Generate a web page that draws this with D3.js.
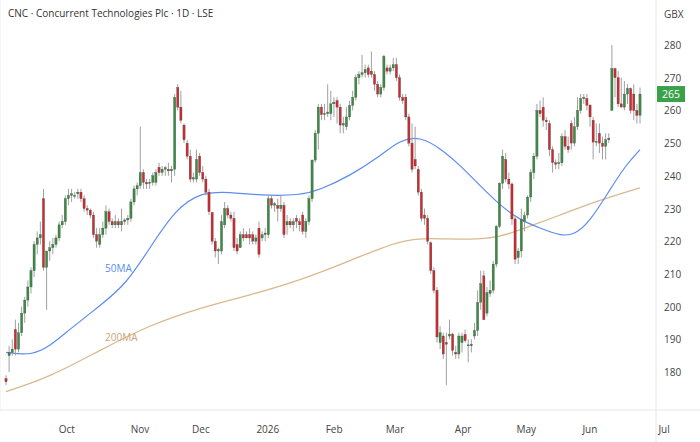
<!DOCTYPE html>
<html><head><meta charset="utf-8">
<script src="https://cdn.jsdelivr.net/npm/d3@7"></script>
<style>body{margin:0;background:#fff}svg{font-family:"Open Sans",sans-serif}</style>
</head><body><svg id="c" width="700" height="442"></svg>
<script>
// daily candles: open, high, low, close
const candles = [
[178,179,176,177],[185,188,180,186],[186,190,185,187],[193,196,185,187],[187,195,186,192],[192,200,191,198],
[198,203,195,202],[202,208,200,206],[206,212,204,211],[211,220,209,219],[219,223,216,221],[221,226,219,222],
[233,236,211,212],[212,215,199,217],[217,220,214,218],[218,221,216,219],[219,222,218,221],[221,226,220,225],
[225,228,224,226],[226,234,225,233],[233,236,231,234],[234,236,232,234.5],[234,235,233,234],[234.5,236,233,235],
[235,236,232,233],[233,234,229,230],[230,231,228,229.5],[229.5,230,227,228],[228,229,221,222],[222,224,218,220],
[219,224,218,222],[222,226,221,224],[224,231,222,229],[229,230,225,226],[226,227,224,225],[225,228,224,226],
[226,227,224,225],[225,230,223,226],[226,227,225,226.5],[226.5,228,225,227],[227,233,226,232],[232,237,231,236],
[236,238,234,237],[237,255,236,241],[241,242,236,238],[238,239,236,237.5],[238,239,236,238],[238,241,237,240],
[238,242,237,241],[242.6,244,240,241],[241,243,240,242],[242,243,240,242.5],[242,244,240,241.5],[241.5,243,238,242],
[242,265,240,264],[267,268,260,261],[261,266,256,257],[255.5,256,250,251],[250,251,245,246],[246,248,238,239],
[239,241,238,239.4],[239,248,238,245],[246,247,240,241],[241,243,238,239],[239,240,234,235],[235,236,228,229],
[228.8,229,219,220],[220,221,215,217],[217,218,213,217.5],[217,228,216,226],[225,232,224,230],[230,231,227,228],
[228,229,226,227],[227,229,217,218],[219,221,216,217],[218,223,218,222],[222,224,220,221],[222,223,221,221],
[222,224,219,221],[222,223,219,220],[220,222,219,221],[224,226,215,216],[221,223,220,222],[222,224,220,222.5],
[222,234,221,233],[233,234,230,231],[231,232,229,231.5],[231,233,226,230],[230,234,229,231],[231,232,221,222],
[225,228,222,226],[226,227,224,225],[225,227,223,226],[227,228,224,226],[226,227,223,225],[228,229,222,223],
[223,227,221,226],[226,234,225,233],[233,245,232,244.8],[244.8,254,244,253],[253,262,248,261],[261,262,257,258.7],
[258.7,262,257,259],[259,268,258,259.5],[259,266,257,262],[262,264,258,262.5],[263,264,256,261],[261,262,253,255.5],
[255.5,258,253,256],[255,261,254,258],[258,263,257,261.5],[261.5,266,260,264],[264,271,263,270],[270,272,268,271],
[271,277,270,271.5],[271.5,274,270,272.5],[273,274,270,271],[272,278,270,271],[271,272,266,268],[268,269,264,265],
[265,268,264,267],[267,277,266,276.5],[273,274,271,272],[272,274,271,273],[273,276,272,274],[274,276,269,270],
[270,271,263,264],[264,265,262,263],[264,265,257,258],[258,259,249,250],[250,256,241,242],[245,255,242,243],
[242,243,234,235],[235,236,226,227],[228,230,225,227],[227,228,219,220],[219.5,220,210,211],[211,212,204,205],
[205,206,189,190.7],[189,194,187,192],[191,192,184,185.5],[189,192,176,188.5],[191,196,190,191.6],[191.6,192,185,186.6],
[186,188,184,185.5],[185.5,192,184,191],[189,192,186,191],[191.5,193,189,189.6],[188,190,183,188.3],[188,190,186,188.5],
[191,195,190,192.7],[192.7,205,191,201.3],[201.3,211,199,207],[209.4,211,196,196],[198,206,197,204.3],[204,208,203,205],
[205,214,204,213],[213,225,212,224.5],[224.5,238,224,237.7],[237.7,248,236,246],[245,247,238,239],[239,241,236,237.5],
[237.5,238,225,226.8],[226.8,228,213,214.5],[215,218,213,217],[217,230,215,226.7],[226,229,223,227.8],[228,234,227,233.5],
[233.5,242,232,241],[241,247,239,246],[246,262,245,260],[260,263,258,259],[261,264,255,257],[257,258,254,256.5],
[256,257,246,248],[248,249,241,244],[244,245,242,243.5],[243.7,247,242,244],[244,253,243,252],[252,254,248,249],
[249,252,247,248],[256,257,248,250],[250,258,249,255],[255,264,254,260],[260,265,259,263.6],[263.6,265,262,264],
[263.6,265,260,261.6],[261.6,262,255,258],[257,258,245,250.3],[250.3,256,249,250.5],[253,256,247,250],[250,252,245,249],
[249,253,245,251],[251,253,250,251.5],[260,280,260,272.8],[272.8,273,264,270],[270,272,261,262],[262,270,261,261],
[261,269,260,265],[265,268,262,266.7],[266.7,267,259,260],[265,268,257,260],[260,262,256,258.5],[258.5,267,256,265]
];
// moving averages as [position on 0..200 time grid, value]
const ma50 = [[0,186],[8,185],[14,188],[20,193],[30,200.5],[38,207],[45.4,218],[53.3,229.5],[61.2,235],[70.7,235],
  [80.1,234],[92.7,234],[99,235.7],[108.5,240],[118,246],[124.3,251],[130.6,252],[136.9,248.5],[143.2,243.3],
  [149.5,237],[155.8,231],[162.1,226.5],[168.5,224],[174.8,221.6],[179.5,222],[184.2,226],[190.5,235.7],[195.3,243],[200,248]];
const ma200 = [[0,174],[14,178.5],[29.7,186.7],[45.4,194.4],[61.2,199.6],[77,203.5],[92.7,208],[108.5,214],
  [124.3,220.4],[133.8,221],[146.4,220.4],[155.8,221.3],[162.1,223.4],[174.8,228],[187.4,232.6],[200,236.3]];
const yTicks = [180,190,200,210,220,230,240,250,260,270,280];
const monthTicks = [["Oct",19.2],["Nov",42.3],["Dec",61.5],["2026",82.6],["Feb",103.5],["Mar",122.7],
  ["Apr",144.2],["May",164.1],["Jun",184.2],["Jul",207.6]];
const lastPrice = 265;

const svg = d3.select("#c");
const x = d3.scaleLinear().domain([0, 200]).range([6, 640]);
const xc = d3.scaleLinear().domain([0, candles.length - 1]).range([6, 640]);
const y = d3.scaleLinear().domain([180, 280]).range([372, 45]);
const up = "#3a8d43", down = "#cf2a2f";

svg.append("line").attr("x1", 656).attr("x2", 656).attr("y1", 0).attr("y2", 442).attr("stroke", "#e6e6e6");
svg.append("line").attr("x1", 0).attr("x2", 700).attr("y1", 410).attr("y2", 410).attr("stroke", "#e6e6e6");
svg.append("line").attr("x1", 0).attr("x2", 0).attr("y1", 0).attr("y2", 410).attr("stroke", "#eee");

const line = d3.line().x(d => x(d[0])).y(d => y(d[1])).curve(d3.curveBasis);
svg.append("path").attr("d", line(ma200)).attr("fill", "none").attr("stroke", "#d9b98f").attr("stroke-width", 1.3);
svg.append("path").attr("d", line(ma50)).attr("fill", "none").attr("stroke", "#5b8def").attr("stroke-width", 1.2);

const g = svg.append("g").selectAll("g").data(candles).join("g");
g.append("line").attr("x1", (d, i) => xc(i)).attr("x2", (d, i) => xc(i))
  .attr("y1", d => y(d[1])).attr("y2", d => y(d[2])).attr("stroke", "#a0a0a0").attr("stroke-width", 1);
g.append("rect").attr("x", (d, i) => xc(i) - 1.1).attr("width", 2.2)
  .attr("y", d => y(Math.max(d[0], d[3])))
  .attr("height", d => Math.max(1, Math.abs(y(d[0]) - y(d[3]))))
  .attr("fill", d => d[3] >= d[0] ? up : down).attr("stroke", "#444").attr("stroke-width", 0.3);

svg.append("text").attr("x", 105).attr("y", 272).attr("fill", "#5b8def").attr("font-size", 10).text("50MA");
svg.append("text").attr("x", 105).attr("y", 341).attr("fill", "#c9a57a").attr("font-size", 10).text("200MA");

svg.append("g").selectAll("text").data(yTicks).join("text")
  .attr("x", 664).attr("y", d => y(d) + 4).attr("font-size", 10).attr("fill", "#444").text(d => d);
svg.append("g").selectAll("text").data(monthTicks).join("text")
  .attr("x", d => x(d[1])).attr("y", 433).attr("text-anchor", "middle").attr("font-size", 10).attr("fill", "#444").text(d => d[0]);

svg.append("rect").attr("x", 657).attr("y", y(lastPrice) - 8).attr("width", 28).attr("height", 16).attr("fill", "#3aa14a");
svg.append("text").attr("x", 671).attr("y", y(lastPrice) + 4).attr("text-anchor", "middle").attr("font-size", 10.5)
  .attr("fill", "#fff").text(lastPrice);
svg.append("text").attr("x", 664).attr("y", 18).attr("font-size", 10).attr("fill", "#444").text("GBX");
svg.append("text").attr("x", 8).attr("y", 17).attr("font-size", 10).attr("fill", "#333")
  .text("CNC · Concurrent Technologies Plc · 1D · LSE");
</script></body></html>
